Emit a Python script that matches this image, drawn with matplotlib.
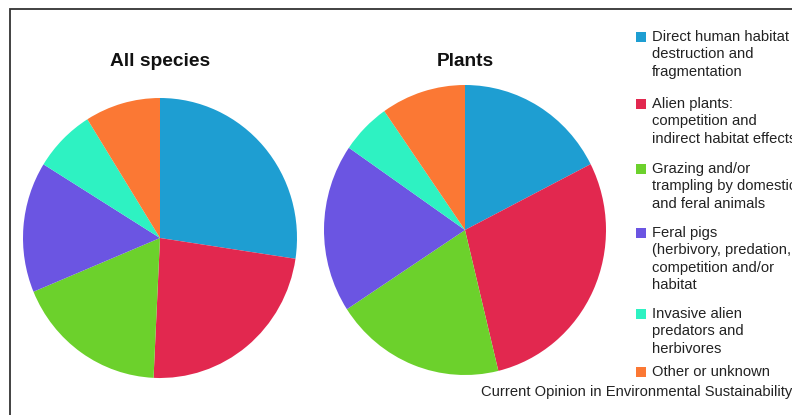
import matplotlib.pyplot as plt
from matplotlib.patches import Rectangle

plt.rcParams['font.family'] = ['Liberation Sans', 'DejaVu Sans']

# Anteile der Ursachen (in %), im Uhrzeigersinn ab 12 Uhr
causes = ["Direct human habitat\ndestruction and\nfragmentation",
          "Alien plants:\ncompetition and\nindirect habitat effects",
          "Grazing and/or\ntrampling by domestic\nand feral animals",
          "Feral pigs\n(herbivory, predation,\ncompetition and/or\nhabitat",
          "Invasive alien\npredators and\nherbivores",
          "Other or unknown"]
all_species = [27.4, 23.4, 18.0, 15.1, 7.3, 8.9]
plants = [17.5, 28.7, 19.6, 18.8, 5.7, 9.7]
colors = ["#1e9ed2", "#e2284f", "#6cd12c", "#6b55e2", "#2ef2c2", "#fb7834"]

W, H = 792, 415
fig = plt.figure(figsize=(W / 100, H / 100), dpi=100)
fig.patch.set_facecolor("white")

def px_axes(cx, cy, rx, ry):
    return fig.add_axes([(cx - rx) / W, 1 - (cy + ry) / H, 2 * rx / W, 2 * ry / H])

for cx, cy, rx, ry, vals, title in [(160, 238, 137, 140, all_species, "All species"),
                                     (465, 230, 141, 145, plants, "Plants")]:
    ax = px_axes(cx, cy, rx, ry)
    ax.pie(vals, colors=colors, startangle=90, counterclock=False,
           radius=1, wedgeprops=dict(linewidth=0))
    ax.set_xlim(-1, 1)
    ax.set_ylim(-1, 1)
    ax.set_aspect("auto")
    ax.axis("off")
    fig.text(cx / W, 1 - 62 / H, title, ha="center", va="center",
             fontsize=13.8, fontweight="bold", color="#111111")

# Legende
tops = [36, 103, 168, 232, 313, 371]
for lab, col, y in zip(causes, colors, tops):
    fig.patches.append(Rectangle((636 / W, 1 - (y + 6) / H), 10 / W, 10 / H,
                                 transform=fig.transFigure, facecolor=col,
                                 edgecolor="none"))
    fig.text(652 / W, 1 - (y - 6) / H, lab, ha="left", va="top",
             fontsize=10.6, color="#222222", linespacing=1.3)

fig.text(481 / W, 1 - 392 / H, "Current Opinion in Environmental Sustainability",
         ha="left", va="center", fontsize=10.6, color="#222222")

# Rahmen
fig.patches.append(Rectangle((10 / W, -0.05), 1.1, 1 - 9 / H + 0.05,
                             transform=fig.transFigure, facecolor="none",
                             edgecolor="#333333", linewidth=1.3))

fig.savefig("out.png", dpi=100)
